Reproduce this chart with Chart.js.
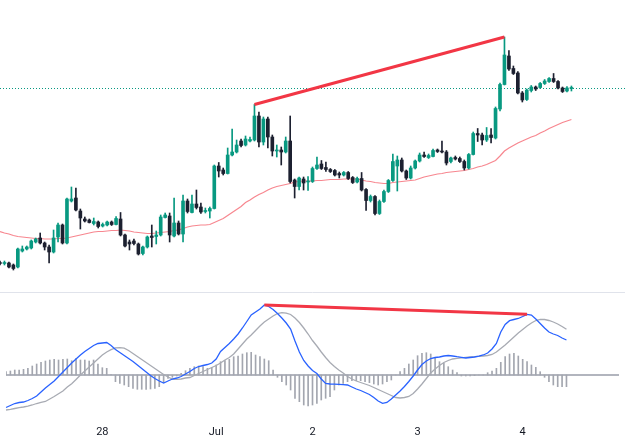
<!DOCTYPE html>
<html>
<head>
<meta charset="utf-8">
<script src="https://cdn.jsdelivr.net/npm/chart.js@4.4.1/dist/chart.umd.min.js"></script>
<style>
  html, body { margin: 0; padding: 0; background: #ffffff; overflow: hidden; }
  #wrap { position: relative; width: 625px; height: 443px; }
  #price { position: absolute; left: 0; top: 0; }
  #macd { position: absolute; left: 0; top: 291px; }
</style>
</head>
<body>
<div id="wrap">
  <canvas id="price" width="625" height="291"></canvas>
  <canvas id="macd" width="625" height="152"></canvas>
</div>
<script>
// hourly candles, 28 Jun - 4 Jul
const open = [1.07737,1.077365,1.07737,1.07735,1.07733,1.07749,1.07751,1.07752,1.07758,1.07762,
  1.07757,1.07753,1.07748,1.07763,1.07775,1.07757,1.07799,1.07802,1.07789,1.07781,
  1.0778,1.077765,1.07778,1.07774,1.07775,1.07778,1.077755,1.07781,1.07765,1.07758,
  1.07759,1.07756,1.077465,1.07753,1.07764,1.077635,1.07765,1.077825,1.07784,1.07764,
  1.07777,1.07766,1.07799,1.077875,1.07796,1.07793,1.077885,1.07789,1.077915,1.07834,
  1.0783,1.078265,1.07845,1.07848,1.07859,1.07855,1.07859,1.0786,1.07884,1.07858,
  1.07881,1.07863,1.07849,1.0785,1.07848,1.07859,1.0782,1.078135,1.07821,1.07818,
  1.078185,1.078315,1.07836,1.078325,1.078305,1.078295,1.078265,1.07825,1.078275,1.078225,
  1.07818,1.078215,1.078105,1.077995,1.078035,1.077865,1.077985,1.078085,1.078195,1.07834,
  1.0784,1.07829,1.07822,1.07832,1.07839,1.07845,1.078425,1.078435,1.0785,1.07849,
  1.07848,1.078385,1.078425,1.078415,1.078385,1.07832,1.078455,1.078665,1.07865,1.0786,
  1.07865,1.07862,1.07891,1.079155,1.07944,1.079315,1.07927,1.07907,1.079005,1.079095,
  1.07913,1.079125,1.079165,1.079185,1.079215,1.079185,1.07912,1.07909,1.079115];
const high = [1.07739,1.07739,1.07738,1.07736,1.07752,1.07754,1.07754,1.0776,1.07762,1.07767,
  1.07758,1.07755,1.0777,1.07777,1.07776,1.07802,1.07813,1.07812,1.07791,1.07783,
  1.07781,1.07782,1.07779,1.07777,1.07779,1.07779,1.077835,1.077875,1.07766,1.0776,
  1.07761,1.07757,1.07754,1.07764,1.07775,1.07769,1.07785,1.07787,1.07787,1.07802,
  1.07779,1.07805,1.07801,1.07805,1.0781,1.07797,1.07792,1.07793,1.07835,1.078375,
  1.07832,1.07852,1.07871,1.0786,1.07861,1.07864,1.07863,1.078955,1.07888,1.07883,
  1.07883,1.07865,1.07855,1.07853,1.07863,1.07884,1.07821,1.07823,1.07823,1.078235,
  1.07833,1.07843,1.078395,1.07838,1.078315,1.078305,1.07828,1.078285,1.078285,1.078235,
  1.07823,1.078275,1.078115,1.07805,1.078045,1.078,1.0781,1.078205,1.07846,1.07844,
  1.07842,1.0783,1.07834,1.0784,1.07847,1.07848,1.07846,1.07851,1.07851,1.07859,
  1.078495,1.07843,1.07844,1.07843,1.0784,1.078465,1.07868,1.078715,1.07867,1.078725,
  1.078715,1.07893,1.07917,1.07963,1.079495,1.07934,1.079285,1.079085,1.07911,1.079145,
  1.07914,1.079175,1.079205,1.079225,1.079265,1.079195,1.07913,1.079135,1.07914];
const low = [1.07735,1.07735,1.07732,1.0773,1.07732,1.07748,1.0775,1.07751,1.07757,1.07756,
  1.0775,1.07737,1.07747,1.07758,1.07756,1.07756,1.07798,1.07789,1.07771,1.07778,
  1.07777,1.07775,1.07772,1.07773,1.07774,1.077745,1.07775,1.07764,1.07753,1.0775,
  1.07755,1.07745,1.07745,1.07752,1.07753,1.07756,1.07764,1.07782,1.07758,1.07763,
  1.07765,1.07758,1.07787,1.07787,1.07791,1.077865,1.07787,1.07782,1.07791,1.07823,
  1.07825,1.07826,1.07844,1.07847,1.07853,1.07854,1.07858,1.07859,1.07853,1.07855,
  1.07852,1.07844,1.07843,1.07835,1.07847,1.07817,1.07802,1.0781,1.0781,1.078095,
  1.078175,1.078305,1.078305,1.078285,1.078275,1.07824,1.07822,1.07824,1.078205,1.078165,
  1.07817,1.07809,1.077895,1.07798,1.07785,1.077855,1.077975,1.078075,1.078185,1.07809,
  1.07828,1.078205,1.07821,1.07831,1.07838,1.078425,1.078415,1.07843,1.078475,1.07847,
  1.07835,1.07837,1.0784,1.078375,1.0783,1.07831,1.07845,1.078585,1.07855,1.078585,
  1.07857,1.07861,1.07889,1.07915,1.079295,1.079255,1.07906,1.07898,1.078995,1.07908,
  1.079095,1.079115,1.079155,1.079175,1.079175,1.07911,1.079075,1.07908,1.07909];
const close = [1.077365,1.07737,1.07733,1.077315,1.07751,1.07751,1.07753,1.07759,1.07761,1.07757,
  1.07753,1.07748,1.07762,1.07775,1.07757,1.07801,1.07801,1.0779,1.07782,1.07779,
  1.077775,1.077785,1.077735,1.077755,1.07778,1.077755,1.077815,1.07765,1.07754,1.07756,
  1.077565,1.07746,1.07753,1.07763,1.077625,1.07765,1.07783,1.07785,1.07765,1.07777,
  1.07766,1.07799,1.077885,1.07796,1.077925,1.07788,1.077895,1.077915,1.07834,1.07829,
  1.078265,1.07845,1.07848,1.07855,1.078545,1.07861,1.078605,1.07884,1.07858,1.07881,
  1.07863,1.07849,1.0785,1.07848,1.07859,1.078185,1.078135,1.07822,1.07817,1.07819,
  1.078315,1.07835,1.078315,1.078305,1.078285,1.07825,1.07825,1.078275,1.078215,1.078175,
  1.078215,1.0781,1.077995,1.078035,1.077865,1.077985,1.078085,1.078195,1.078385,1.0784,
  1.07829,1.07822,1.07832,1.07839,1.07845,1.078435,1.078445,1.078495,1.078485,1.07848,
  1.07837,1.07842,1.07841,1.078385,1.07832,1.078455,1.078665,1.07865,1.0786,1.078645,
  1.078625,1.078915,1.079155,1.07945,1.07931,1.079265,1.07907,1.079,1.0791,1.07913,
  1.07911,1.079165,1.07919,1.079215,1.079185,1.07912,1.079085,1.07912,1.079125];
// moving average on the price pane
const ma = [1.077685,1.07767,1.07766,1.077645,1.077635,1.07763,1.077625,1.07762,1.077615,1.077615,
  1.07761,1.07761,1.07761,1.077615,1.077615,1.07762,1.07763,1.07764,1.07765,1.07766,
  1.07767,1.07768,1.077685,1.077685,1.07769,1.077695,1.077695,1.0777,1.077695,1.07769,
  1.07768,1.077675,1.07767,1.077665,1.077665,1.07767,1.077675,1.07768,1.077685,1.077695,
  1.0777,1.077715,1.07773,1.07774,1.077745,1.07775,1.07775,1.077755,1.077775,1.077795,
  1.077815,1.077845,1.077875,1.077905,1.077935,1.077975,1.078,1.07803,1.078055,1.078075,
  1.0781,1.07812,1.078135,1.078145,1.078155,1.078165,1.07818,1.078185,1.07819,1.07819,
  1.07819,1.078195,1.078195,1.0782,1.078205,1.078205,1.078205,1.07821,1.07821,1.07821,
  1.07821,1.0782,1.07819,1.078185,1.078175,1.07817,1.078165,1.078165,1.078175,1.07818,
  1.078185,1.07819,1.078195,1.0782,1.078215,1.07823,1.07824,1.07825,1.07826,1.078265,
  1.078275,1.07828,1.078285,1.07829,1.078295,1.078305,1.078315,1.07833,1.07834,1.078355,
  1.078375,1.078395,1.07844,1.07849,1.07852,1.078545,1.07857,1.07859,1.07861,1.07863,
  1.078645,1.07867,1.07869,1.078715,1.078735,1.078755,1.078775,1.07879,1.078805];
// MACD pane (pips)
const macdLine = [-3.25,-3.05,-2.85,-2.75,-2.7,-2.55,-2.35,-2.1,-1.7,-1.3,
  -0.95,-0.6,-0.15,0.3,0.75,1.2,1.6,2.0,2.35,2.65,
  2.95,3.15,3.2,3.25,2.95,2.55,2.25,1.95,1.65,1.35,
  1.0,0.65,0.3,-0.05,-0.35,-0.6,-0.8,-0.6,-0.4,-0.3,
  -0.15,0.1,0.35,0.65,0.85,0.95,1.05,1.2,1.6,2.35,
  2.75,3.15,3.6,4.1,4.7,5.35,6.0,6.3,6.6,7.0,
  6.85,6.55,6.15,5.7,5.2,4.6,3.4,2.3,1.45,0.9,
  0.45,0.15,-0.4,-0.85,-0.9,-0.92,-0.94,-0.96,-1.0,-1.2,
  -1.4,-1.55,-1.75,-1.95,-2.25,-2.6,-2.83,-2.75,-2.4,-2.0,
  -1.6,-1.15,-0.65,-0.1,0.5,1.05,1.4,1.65,1.75,1.8,
  1.9,1.95,1.9,1.83,1.77,1.7,1.75,1.8,1.88,2.0,
  2.2,2.6,3.15,4.3,5.05,5.43,5.55,5.65,5.85,6.07,
  6.0,5.6,5.15,4.7,4.3,4.1,3.95,3.7,3.5];
const signalLine = [-3.5,-3.43,-3.35,-3.27,-3.2,-3.12,-3.0,-2.85,-2.73,-2.65,
  -2.4,-2.15,-1.87,-1.6,-1.2,-0.87,-0.45,0,0.4,0.8,
  1.2,1.6,2.0,2.3,2.53,2.72,2.73,2.68,2.45,2.15,
  1.85,1.55,1.25,0.95,0.65,0.35,0.05,-0.2,-0.4,-0.43,
  -0.4,-0.3,-0.25,-0.05,0.15,0.35,0.55,0.75,0.95,1.2,
  1.5,1.75,2.1,2.6,3.1,3.6,4.0,4.45,4.9,5.3,
  5.6,5.9,6.15,6.23,6.18,6.05,5.7,5.25,4.7,4.1,
  3.45,2.9,2.3,1.75,1.25,0.85,0.5,0.2,-0.15,-0.4,
  -0.6,-0.75,-0.9,-1.05,-1.25,-1.45,-1.65,-1.85,-2.05,-2.25,
  -2.3,-2.25,-2.15,-1.85,-1.4,-0.9,-0.35,0.2,0.6,0.95,
  1.25,1.45,1.6,1.67,1.72,1.77,1.8,1.83,1.87,1.9,
  1.95,2.05,2.3,2.65,3.0,3.4,3.8,4.2,4.55,4.9,
  5.2,5.45,5.57,5.55,5.45,5.3,5.1,4.85,4.57];
const hist = [0.33,0.4,0.5,0.5,0.57,0.67,0.9,1.1,1.27,1.4,
  1.5,1.57,1.5,1.57,1.6,1.43,1.67,1.5,1.5,1.4,
  1.5,1.1,0.73,0.67,0.05,-0.67,-0.83,-1.0,-1.17,-1.33,
  -1.43,-1.43,-1.43,-1.4,-1.33,-1.17,-0.77,-0.33,-0.23,-0.1,
  0.17,0.43,0.67,0.83,0.9,0.83,0.67,0.77,1.0,1.33,
  1.43,1.57,1.83,1.9,2.1,2.23,2.27,2.0,1.83,1.6,
  1.43,0.5,-0.23,-0.67,-1.0,-1.5,-2.33,-2.67,-3.0,-3.1,
  -3.0,-2.83,-2.5,-2.33,-2.17,-1.5,-1.0,-0.83,-0.67,-0.57,
  -0.57,-0.57,-0.67,-0.77,-0.9,-1.0,-0.9,-0.67,-0.5,0,
  0.33,0.67,1.1,1.5,1.93,2.17,2.23,2.1,1.67,1.33,
  1.17,0.83,0.5,0.23,-0.1,-0.1,-0.1,-0.07,0,0,
  0.23,0.4,0.67,1.27,1.83,2.1,2.17,1.9,1.57,1.33,
  1.0,0.77,0.33,-0.23,-0.67,-1.0,-1.17,-1.17,-1.17];
// divergence lines (candle index, value)
const priceDivIdx = [57, 113];
const priceDivVal = [1.078955, 1.07963];
const macdDivIdx = [59, 119];
const macdDivVal = [7.0, 6.07];
// time axis
const slotCount = 141;
const tickIdx = [22, 48, 70, 94, 118];
const tickText = ['28', 'Jul', '2', '3', '4'];

const green = '#089981';
const dark = '#1c2030';

Chart.defaults.font.family = 'Roboto';

const slots = [];
for (let i = 0; i < slotCount; i++) slots.push('');
tickIdx.forEach((k, j) => { slots[k] = tickText[j]; });

const candleColor = close.map((c, i) => c >= open[i] ? green : dark);

const divPrice = slots.map(() => null);
priceDivIdx.forEach((k, j) => { divPrice[k] = priceDivVal[j]; });
const divMacd = slots.map(() => null);
macdDivIdx.forEach((k, j) => { divMacd[k] = macdDivVal[j]; });

// dotted line at the last close
const lastPrice = {
  id: 'lastPrice',
  beforeDatasetsDraw(chart) {
    const { ctx, chartArea, scales } = chart;
    const py = Math.round(scales.y.getPixelForValue(close[close.length - 1])) + 0.5;
    ctx.save();
    ctx.strokeStyle = green;
    ctx.lineWidth = 1;
    ctx.setLineDash([1, 2]);
    ctx.beginPath();
    ctx.moveTo(chartArea.left, py);
    ctx.lineTo(chartArea.right, py);
    ctx.stroke();
    ctx.restore();
  }
};

// zero line and pane border for the MACD pane
const macdFrame = {
  id: 'macdFrame',
  beforeDatasetsDraw(chart) {
    const { ctx, chartArea, scales } = chart;
    const zy = scales.y.getPixelForValue(0);
    ctx.save();
    ctx.strokeStyle = '#b2b5be';
    ctx.lineWidth = 2;
    ctx.beginPath();
    ctx.moveTo(chartArea.left, zy);
    ctx.lineTo(chartArea.right, zy);
    ctx.stroke();
    ctx.strokeStyle = '#e0e3eb';
    ctx.lineWidth = 1;
    ctx.beginPath();
    ctx.moveTo(0, 1.5);
    ctx.lineTo(chart.width, 1.5);
    ctx.stroke();
    ctx.restore();
  }
};

new Chart(document.getElementById('price'), {
  type: 'bar',
  data: {
    labels: slots,
    datasets: [
      { type: 'line', data: ma, borderColor: 'rgba(242,54,69,0.6)', borderWidth: 1.2, pointRadius: 0, order: 4 },
      { data: low.map((l, i) => [l, high[i]]), backgroundColor: candleColor, barThickness: 1, grouped: false, order: 3 },
      { data: open.map((o, i) => [o, close[i]]), backgroundColor: candleColor, barThickness: 3, grouped: false, minBarLength: 1, order: 2 },
      { type: 'line', data: divPrice, borderColor: '#f23645', borderWidth: 3, pointRadius: 0, spanGaps: true, order: 0 }
    ]
  },
  options: {
    responsive: false,
    animation: false,
    layout: { padding: 0 },
    plugins: { legend: { display: false }, tooltip: { enabled: false } },
    scales: {
      x: { display: false, offset: false },
      y: { display: false, min: 1.07709, max: 1.08 }
    }
  },
  plugins: [lastPrice]
});

new Chart(document.getElementById('macd'), {
  type: 'bar',
  data: {
    labels: slots,
    datasets: [
      { type: 'line', data: macdLine, borderColor: '#2962ff', borderWidth: 1.3, pointRadius: 0, order: 1 },
      { type: 'line', data: signalLine, borderColor: '#a8abb3', borderWidth: 1.3, pointRadius: 0, order: 2 },
      { data: hist, backgroundColor: '#a3a6af', barThickness: 1, order: 3 },
      { type: 'line', data: divMacd, borderColor: '#f23645', borderWidth: 3, pointRadius: 0, spanGaps: true, order: 0 }
    ]
  },
  options: {
    responsive: false,
    animation: false,
    layout: { padding: 0 },
    plugins: { legend: { display: false }, tooltip: { enabled: false } },
    scales: {
      x: {
        offset: false,
        grid: { display: false, drawTicks: false },
        border: { display: false },
        ticks: { autoSkip: false, maxRotation: 0, padding: 6, color: '#131722', font: { size: 11 } },
        afterFit(scale) { scale.height = 23; }
      },
      y: { display: false, min: -4.5, max: 8.4 }
    }
  },
  plugins: [macdFrame]
});
</script>
</body>
</html>
